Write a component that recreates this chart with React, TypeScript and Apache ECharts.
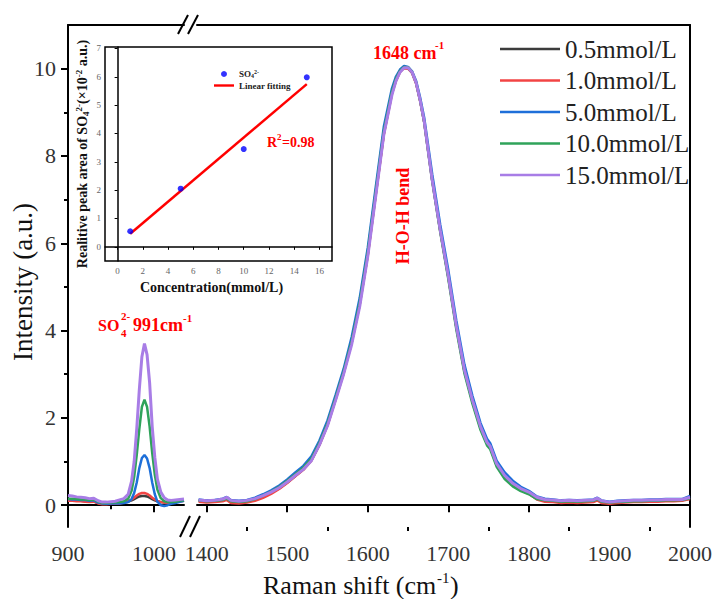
import React, { useEffect, useRef } from "react";
import * as echarts from "echarts";

const FF = "Liberation Serif";

const concentrations = ["0.5mmol/L", "1.0mmol/L", "5.0mmol/L", "10.0mmol/L", "15.0mmol/L"];
const colors = ["#3c3c3c", "#f24444", "#1e6fd9", "#2fa35a", "#a87de6"];

// left segment (900-1035 cm-1)
const xLeft = [900, 905, 910, 915, 920, 925, 930, 935, 940, 945, 950, 955, 960, 965, 970, 974, 977, 980, 983, 986, 989, 992, 995, 998, 1001, 1004, 1008, 1012, 1016, 1020, 1025, 1030, 1035];
const leftBlack = [0.11, 0.11, 0.10, 0.10, 0.09, 0.08, 0.09, 0.05, 0.03, 0.03, 0.04, 0.04, 0.05, 0.06, 0.08, 0.11, 0.14, 0.17, 0.20, 0.21, 0.21, 0.20, 0.17, 0.14, 0.11, 0.09, 0.07, 0.06, 0.06, 0.07, 0.08, 0.09, 0.10];
const leftRed = [0.10, 0.10, 0.09, 0.09, 0.08, 0.07, 0.08, 0.04, 0.02, 0.02, 0.03, 0.03, 0.04, 0.06, 0.09, 0.13, 0.17, 0.22, 0.26, 0.28, 0.28, 0.26, 0.22, 0.17, 0.13, 0.10, 0.07, 0.06, 0.06, 0.07, 0.08, 0.09, 0.10];
const leftBlue = [0.14, 0.13, 0.13, 0.12, 0.12, 0.10, 0.11, 0.06, 0.04, 0.03, 0.04, 0.04, 0.04, 0.05, 0.07, 0.14, 0.28, 0.52, 0.85, 1.08, 1.15, 1.07, 0.85, 0.52, 0.25, 0.08, 0.0, -0.02, 0.0, 0.03, 0.05, 0.08, 0.10];
const leftGreen = [0.15, 0.15, 0.14, 0.13, 0.13, 0.12, 0.13, 0.08, 0.05, 0.05, 0.06, 0.06, 0.07, 0.09, 0.15, 0.33, 0.65, 1.15, 1.75, 2.25, 2.42, 2.25, 1.8, 1.2, 0.7, 0.36, 0.16, 0.09, 0.07, 0.07, 0.08, 0.10, 0.11];
const leftPurple = [0.22, 0.21, 0.19, 0.18, 0.17, 0.15, 0.16, 0.10, 0.07, 0.07, 0.08, 0.09, 0.12, 0.15, 0.25, 0.55, 1.0, 1.75, 2.65, 3.4, 3.7, 3.45, 2.8, 1.8, 1.1, 0.6, 0.3, 0.17, 0.12, 0.11, 0.12, 0.13, 0.14];

// right segment (1390-2000 cm-1)
const xRight = [1390, 1400, 1410, 1420, 1425, 1430, 1440, 1450, 1460, 1470, 1480, 1490, 1500, 1510, 1520, 1530, 1540, 1550, 1560, 1570, 1580, 1590, 1600, 1610, 1620, 1630, 1635, 1640, 1645, 1650, 1655, 1660, 1665, 1670, 1680, 1690, 1700, 1710, 1720, 1730, 1740, 1748, 1752, 1760, 1770, 1780, 1790, 1800, 1810, 1820, 1830, 1840, 1850, 1860, 1870, 1880, 1885, 1890, 1900, 1910, 1920, 1930, 1940, 1950, 1960, 1970, 1980, 1990, 2000];
const rightBlack = [0.10, 0.08, 0.09, 0.11, 0.14, 0.07, 0.06, 0.08, 0.12, 0.19, 0.28, 0.39, 0.52, 0.67, 0.82, 1.03, 1.39, 1.84, 2.43, 3.03, 3.72, 4.60, 5.74, 7.14, 8.52, 9.44, 9.74, 9.94, 10.02, 10.01, 9.91, 9.67, 9.27, 8.79, 7.45, 6.29, 5.23, 4.08, 3.08, 2.38, 1.78, 1.42, 1.33, 0.93, 0.65, 0.47, 0.35, 0.27, 0.15, 0.10, 0.09, 0.07, 0.08, 0.07, 0.08, 0.09, 0.13, 0.07, 0.05, 0.07, 0.08, 0.09, 0.09, 0.10, 0.10, 0.11, 0.11, 0.11, 0.15];
const rightRed = [0.08, 0.06, 0.07, 0.09, 0.12, 0.05, 0.04, 0.06, 0.10, 0.17, 0.26, 0.37, 0.51, 0.66, 0.81, 1.02, 1.38, 1.83, 2.42, 3.02, 3.72, 4.60, 5.72, 7.12, 8.50, 9.42, 9.72, 9.92, 10.01, 10.00, 9.90, 9.66, 9.26, 8.78, 7.44, 6.28, 5.22, 4.07, 3.07, 2.37, 1.77, 1.41, 1.32, 0.92, 0.64, 0.46, 0.34, 0.26, 0.13, 0.08, 0.07, 0.05, 0.06, 0.05, 0.06, 0.07, 0.11, 0.05, 0.03, 0.05, 0.06, 0.07, 0.07, 0.08, 0.08, 0.09, 0.09, 0.10, 0.14];
const rightBlue = [0.13, 0.11, 0.12, 0.15, 0.19, 0.12, 0.10, 0.12, 0.17, 0.25, 0.34, 0.45, 0.59, 0.75, 0.90, 1.12, 1.48, 1.94, 2.52, 3.12, 3.85, 4.75, 5.90, 7.30, 8.68, 9.55, 9.82, 9.98, 10.06, 10.04, 9.94, 9.72, 9.34, 8.88, 7.58, 6.42, 5.38, 4.22, 3.22, 2.50, 1.88, 1.52, 1.42, 1.02, 0.75, 0.56, 0.42, 0.33, 0.20, 0.15, 0.13, 0.11, 0.12, 0.11, 0.12, 0.13, 0.17, 0.11, 0.08, 0.10, 0.11, 0.12, 0.12, 0.13, 0.13, 0.14, 0.14, 0.14, 0.21];
const rightGreen = [0.11, 0.09, 0.10, 0.12, 0.15, 0.09, 0.07, 0.09, 0.14, 0.22, 0.31, 0.42, 0.56, 0.71, 0.86, 1.07, 1.43, 1.88, 2.46, 3.06, 3.76, 4.65, 5.80, 7.20, 8.58, 9.48, 9.77, 9.95, 10.04, 10.03, 9.92, 9.68, 9.27, 8.78, 7.42, 6.25, 5.18, 4.02, 3.02, 2.32, 1.72, 1.37, 1.28, 0.88, 0.60, 0.43, 0.32, 0.25, 0.14, 0.11, 0.10, 0.08, 0.09, 0.08, 0.09, 0.10, 0.14, 0.08, 0.06, 0.07, 0.08, 0.09, 0.09, 0.10, 0.10, 0.11, 0.11, 0.12, 0.16];
const rightPurple = [0.12, 0.10, 0.11, 0.14, 0.18, 0.11, 0.09, 0.11, 0.15, 0.22, 0.30, 0.40, 0.53, 0.68, 0.82, 1.02, 1.38, 1.82, 2.40, 3.00, 3.68, 4.55, 5.70, 7.10, 8.50, 9.40, 9.72, 9.92, 10.02, 10.02, 9.92, 9.68, 9.28, 8.80, 7.45, 6.30, 5.25, 4.10, 3.10, 2.40, 1.80, 1.44, 1.35, 0.95, 0.68, 0.50, 0.38, 0.30, 0.18, 0.13, 0.12, 0.10, 0.11, 0.10, 0.11, 0.12, 0.16, 0.10, 0.07, 0.09, 0.10, 0.11, 0.11, 0.12, 0.12, 0.13, 0.13, 0.13, 0.18];

// inset
const insetConc = [1, 5, 10, 15];
const insetArea = [0.55, 2.05, 3.45, 5.98];
const fitX = [1, 15];
const fitY = [0.46, 5.74];

// ticks
const yTicks = [0, 2, 4, 6, 8, 10];
const yMinorTicks = [1, 3, 5, 7, 9];
const xLeftTicks = [900, 1000];
const xLeftMinor = [950];
const xRightTicks = [1400, 1500, 1600, 1700, 1800, 1900, 2000];
const xRightMinor = [1450, 1550, 1650, 1750, 1850, 1950];
const insetXTicks = [0, 2, 4, 6, 8, 10, 12, 14, 16];
const insetYTicks = [0, 1, 2, 3, 4, 5, 6, 7];

const leftSets = [leftBlack, leftRed, leftBlue, leftGreen, leftPurple];
const rightSets = [rightBlack, rightRed, rightBlue, rightGreen, rightPurple];
const zip = (xs: number[], ys: number[]) => xs.map((x, i) => [x, ys[i]]);
const plain = (v: number) => String(v);

const axisLineStyle = { color: "#000", width: 2 };

function mainX(grid: number, min: number, max: number, ticks: number[]) {
  return {
    type: "value", gridIndex: grid, min, max, position: "bottom",
    axisLine: { show: true, lineStyle: axisLineStyle },
    axisTick: { show: true, customValues: ticks, length: 7, lineStyle: { color: "#000", width: 2 } },
    axisLabel: { show: true, customValues: ticks, formatter: plain, fontSize: 22, fontWeight: 400, color: "#333", fontFamily: FF, margin: 15 },
    splitLine: { show: false },
  };
}
function minorX(grid: number, min: number, max: number, ticks: number[]) {
  return {
    type: "value", gridIndex: grid, min, max, position: "bottom",
    axisLine: { show: false },
    axisTick: { show: true, customValues: ticks, length: 4, lineStyle: { color: "#000", width: 2 } },
    axisLabel: { show: false },
    splitLine: { show: false },
  };
}
function topX(grid: number, min: number, max: number) {
  return {
    type: "value", gridIndex: grid, min, max, position: "top",
    axisLine: { show: true, lineStyle: axisLineStyle },
    axisTick: { show: false }, axisLabel: { show: false }, splitLine: { show: false },
  };
}

const txt = (text: string, x: number, y: number, size: number, extra: any = {}) => ({
  type: "text", x, y, rotation: extra.rotation || 0, z: extra.z || 5,
  style: {
    text, fill: extra.fill || "#ff0000", fontSize: size, fontWeight: extra.weight || "bold", fontFamily: FF,
    align: extra.align || "left", textAlign: extra.align || "left",
    verticalAlign: "middle", textVerticalAlign: "middle",
  },
});

const mainIcon = "path://M0,0 L60,0 L60,2.6 L0,2.6 Z";
const fitIcon = "path://M0,0 L20,0 L20,2.4 L0,2.4 Z";

export default function App() {
  const ref = useRef<HTMLDivElement>(null);
  useEffect(() => {
    document.body.style.margin = "0";
    if (!ref.current) return;
    const chart = echarts.init(ref.current, null, { renderer: "svg" });

    const series: any[] = [];
    concentrations.forEach((name, i) => {
      const common = {
        type: "line", name, symbol: "none", showSymbol: false,
        lineStyle: { width: i === 4 ? 3 : 2.5, color: colors[i] },
        itemStyle: { color: colors[i] },
      };
      series.push({ ...common, xAxisIndex: 0, yAxisIndex: 0, data: zip(xLeft, leftSets[i]) });
      series.push({ ...common, xAxisIndex: 3, yAxisIndex: 2, data: zip(xRight, rightSets[i]) });
    });
    series.push({
      type: "scatter", name: "SO4", xAxisIndex: 6, yAxisIndex: 3, symbolSize: 6,
      itemStyle: { color: "#0000ff" }, data: zip(insetConc, insetArea), z: 5,
    });
    series.push({
      type: "line", name: "Linear fitting", xAxisIndex: 6, yAxisIndex: 3, symbol: "none", showSymbol: false,
      lineStyle: { width: 2.5, color: "#ff0000" }, itemStyle: { color: "#ff0000" }, data: zip(fitX, fitY),
    });

    const slash = (x1: number, y1: number, x2: number, y2: number) => ({
      type: "line", shape: { x1, y1, x2, y2 }, style: { stroke: "#000", lineWidth: 2 }, z: 10,
    });

    const option: any = {
      animation: false,
      backgroundColor: "#fff",
      textStyle: { fontFamily: FF, fontWeight: 400 },
      grid: [
        { left: 68, top: 25, width: 116, height: 502 },
        { left: 197, top: 25, width: 495, height: 502 },
        { left: 105, top: 47, width: 227, height: 214, show: true, borderColor: "#000", borderWidth: 1.5, backgroundColor: "#fff", z: 3 },
      ],
      xAxis: [
        mainX(0, 900, 1035, xLeftTicks),
        minorX(0, 900, 1035, xLeftMinor),
        topX(0, 900, 1035),
        mainX(1, 1388, 2000, xRightTicks),
        minorX(1, 1388, 2000, xRightMinor),
        topX(1, 1388, 2000),
        {
          type: "value", gridIndex: 2, min: -1, max: 17, position: "bottom", z: 4,
          axisLine: { show: true, lineStyle: { color: "#000", width: 1.5 } },
          axisTick: { show: true, customValues: insetXTicks, length: 3, lineStyle: { color: "#000", width: 1 } },
          axisLabel: { show: true, customValues: insetXTicks, formatter: plain, fontSize: 9, fontWeight: 400, color: "#666", fontFamily: FF, margin: 5 },
          splitLine: { show: false },
          name: "Concentration(mmol/L)", nameLocation: "middle", nameGap: 19,
          nameTextStyle: { fontSize: 14, fontWeight: "bold", color: "#111", fontFamily: FF, padding: [0, 14, 0, 0] },
        },
      ],
      yAxis: [
        {
          type: "value", gridIndex: 0, min: -0.5, max: 11, position: "left",
          axisLine: { show: true, lineStyle: axisLineStyle },
          axisTick: { show: true, customValues: yTicks, length: 7, lineStyle: { color: "#000", width: 2 } },
          axisLabel: { show: true, customValues: yTicks, formatter: plain, fontSize: 22, fontWeight: 400, color: "#333", fontFamily: FF, margin: 12 },
          splitLine: { show: false },
          name: "Intensity (a.u.)", nameLocation: "middle", nameGap: 32, nameMoveOverlap: false,
          nameTextStyle: { fontSize: 27, fontWeight: 400, color: "#111", fontFamily: FF, padding: [0, 12, 0, 0] },
        },
        {
          type: "value", gridIndex: 0, min: -0.5, max: 11, position: "left",
          axisLine: { show: false },
          axisTick: { show: true, customValues: yMinorTicks, length: 4, lineStyle: { color: "#000", width: 2 } },
          axisLabel: { show: false }, splitLine: { show: false },
        },
        {
          type: "value", gridIndex: 1, min: -0.5, max: 11, position: "right",
          axisLine: { show: true, lineStyle: axisLineStyle },
          axisTick: { show: false }, axisLabel: { show: false }, splitLine: { show: false },
        },
        {
          type: "value", gridIndex: 2, min: -0.5, max: 7.05, position: "left", z: 4,
          axisLine: { show: true, lineStyle: { color: "#000", width: 1.5 } },
          axisTick: { show: true, customValues: insetYTicks, length: 3, lineStyle: { color: "#000", width: 1 } },
          axisLabel: { show: true, customValues: insetYTicks, formatter: plain, fontSize: 9, fontWeight: 400, color: "#666", fontFamily: FF, margin: 4 },
          splitLine: { show: false },
          name: "{b|Realitive peak area of SO}{sub|4}{sup|2-}{b|(×10}{sup|-2}{b| a.u.)}",
          nameLocation: "middle", nameGap: 15,
          nameTextStyle: {
            fontSize: 14, fontWeight: "bold", color: "#111", fontFamily: FF,
            rich: {
              b: { fontSize: 14, fontWeight: "bold", fontFamily: FF, color: "#111", lineHeight: 16 },
              sub: { fontSize: 9, fontWeight: "bold", fontFamily: FF, color: "#111", verticalAlign: "bottom", lineHeight: 9 },
              sup: { fontSize: 9, fontWeight: "bold", fontFamily: FF, color: "#111", verticalAlign: "top", lineHeight: 9 },
            },
          },
        },
      ],
      legend: [
        {
          data: concentrations, orient: "vertical", left: 495, top: 31,
          itemWidth: 60, itemHeight: 14, itemGap: 5.5, selectedMode: false, icon: mainIcon,
          textStyle: { fontSize: 25, fontWeight: 400, fontFamily: FF, color: "#222", lineHeight: 26 },
        },
        {
          data: [{ name: "SO4", icon: "circle" }, { name: "Linear fitting", icon: fitIcon }],
          orient: "vertical", left: 209, top: 64,
          itemWidth: 20, itemHeight: 6, itemGap: 2, selectedMode: false, z: 6,
          formatter: (n: string) => (n === "SO4" ? "{b|SO}{sub|4}{sup|2-}" : "{b|Linear fitting}"),
          textStyle: {
            fontSize: 9, fontFamily: FF, fontWeight: "bold", color: "#222",
            rich: {
              b: { fontSize: 9, fontWeight: "bold", fontFamily: FF, color: "#222", lineHeight: 10 },
              sub: { fontSize: 6, fontWeight: "bold", fontFamily: FF, color: "#222", verticalAlign: "bottom", lineHeight: 6 },
              sup: { fontSize: 6, fontWeight: "bold", fontFamily: FF, color: "#222", verticalAlign: "top", lineHeight: 6 },
            },
          },
        },
      ],
      graphic: [
        slash(180, 537, 190, 516),
        slash(190, 537, 200, 516),
        slash(178, 34, 188, 15),
        slash(188, 34, 198, 15),
        txt("1648 cm", 373, 53, 18),
        txt("-1", 435, 45, 11),
        txt("H-O-H bend", 403, 216, 18, { rotation: Math.PI / 2, align: "center" }),
        txt("SO", 98, 325, 16),
        txt("2-", 121, 316, 11),
        txt("4", 121, 333, 11),
        txt("991cm", 133, 325, 18),
        txt("-1", 183, 318, 11),
        txt("R", 267, 142, 14, { z: 10 }),
        txt("2", 277, 137, 9, { z: 10 }),
        txt("=0.98", 282, 142, 14, { z: 10 }),
        txt("Raman shift (cm", 263, 585, 26, { fill: "#111", weight: 400 }),
        txt("-1", 437, 578, 15, { fill: "#111", weight: 400 }),
        txt(")", 450, 585, 26, { fill: "#111", weight: 400 }),
      ],
      series,
    };
    chart.setOption(option);
    return () => chart.dispose();
  }, []);
  return <div ref={ref} style={{ width: 715, height: 599 }} />;
}
